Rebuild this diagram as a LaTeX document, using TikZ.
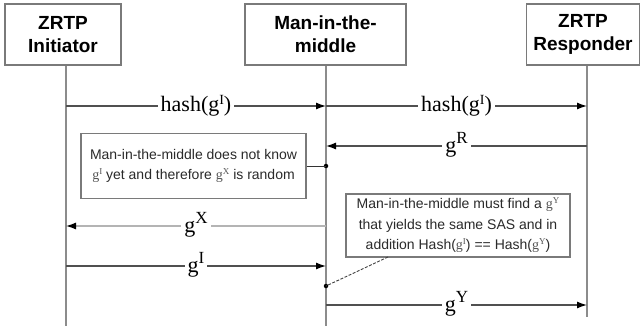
\documentclass[tikz,border=0pt]{standalone}
\usepackage{fontspec}
\setmainfont{Liberation Serif}
\setsansfont{Liberation Sans}
\usetikzlibrary{arrows.meta}
\definecolor{boxgray}{HTML}{7A7A7A}
\definecolor{lifegray}{HTML}{8C8C8C}
\definecolor{msggray}{HTML}{505050}
\definecolor{lightmsg}{HTML}{B4B4B4}
\definecolor{txtgray}{HTML}{2A2A2A}
\definecolor{geegray}{HTML}{555555}
\newcommand\mysup[3]{\raisebox{#2}{\fontsize{#1}{#1}\selectfont #3}}
\newcommand\notegee[1]{{\rmfamily\color{geegray}g\mysup{9}{5pt}{#1}}}
\tikzset{
  hdr/.style={draw=boxgray, line width=1.2pt, fill=white, align=center,
    font=\sffamily\bfseries\fontsize{19}{23}\selectfont, inner sep=0pt},
  note/.style={draw=boxgray, line width=1.2pt, fill=white, align=center,
    text=txtgray, font=\sffamily\fontsize{14}{20.5}\selectfont, inner sep=0pt},
  life/.style={draw=lifegray, line width=1.4pt},
  msg/.style={draw=msggray, line width=1.3pt, -{Latex[length=10pt,width=7pt,color=black]}},
  lmsg/.style={draw=lightmsg, line width=1.3pt, -{Latex[length=10pt,width=7pt,color=black]}},
  lbl/.style={fill=white, inner xsep=3pt, inner ysep=1pt, anchor=base, yshift=-6pt,
    font=\rmfamily\fontsize{22}{22}\selectfont},
  conn/.style={draw=black!80, line width=0.9pt},
  dconn/.style={draw=black!75, line width=0.9pt, dash pattern=on 3pt off 1.5pt},
  dot/.style={circle, fill=black, inner sep=0pt, minimum size=4.5pt}
}
\begin{document}
\begin{tikzpicture}[x=1pt,y=-1pt]
\useasboundingbox (0,0) rectangle (642,326);
% lifeline coordinates
\coordinate (iTop) at (66,65);  \coordinate (iBot) at (66,326);
\coordinate (mTop) at (326,65); \coordinate (mBot) at (326,326);
\coordinate (rTop) at (587,65); \coordinate (rBot) at (587,317);
\draw[life] (iTop) -- (iBot);
\draw[life] (mTop) -- (mBot);
\draw[life] (rTop) -- (rBot);
% headers
\node[hdr, minimum width=116pt, minimum height=61pt] (ini) at (63,34.5) {ZRTP\\Initiator};
\node[hdr, minimum width=161pt, minimum height=61pt] (mid) at (325.5,34.5) {Man-in-the-\\middle};
\node[hdr, minimum width=113pt, minimum height=61pt] (res) at (583,34.5) {ZRTP\\Responder};
% message endpoints
\coordinate (i1) at (66,106);  \coordinate (m1) at (326,106); \coordinate (r1) at (587,106);
\coordinate (m2) at (326,146); \coordinate (r2) at (587,146);
\coordinate (i3) at (66,226);  \coordinate (m3) at (326,226);
\coordinate (i4) at (66,266);  \coordinate (m4) at (326,266);
\coordinate (m5) at (326,305); \coordinate (r5) at (587,305);
% messages
\draw[msg] (i1) -- node[lbl] {hash(g\mysup{14}{7pt}{I})} (m1);
\draw[msg] (m1) -- node[lbl] {hash(g\mysup{14}{7pt}{I})} (r1);
\draw[msg] (r2) -- node[lbl] {g\mysup{17}{9pt}{R}} (m2);
\draw[lmsg] (m3) -- node[lbl] {g\mysup{17}{9pt}{X}} (i3);
\draw[msg] (i4) -- node[lbl] {g\mysup{17}{9pt}{I}} (m4);
\draw[msg] (m5) -- node[lbl] {g\mysup{17}{9pt}{Y}} (r5);
% notes
\node[note, minimum width=225pt, minimum height=65pt] (note1) at (193.5,166)
  {Man-in-the-middle does not know\\\notegee{I} yet and therefore \notegee{X} is random};
\node[note, minimum width=224pt, minimum height=63pt] (note2) at (458,225.5)
  {Man-in-the-middle must find a \notegee{Y}\\that yields the same SAS and in\\addition Hash(\notegee{I}) == Hash(\notegee{Y})};
\node[dot] (d1) at (326,166) {};
\node[dot] (d2) at (326,286) {};
\coordinate (n2c) at (388,257);
\draw[conn] (note1.east) -- (d1.center);
\draw[dconn] (n2c) -- (d2.center);
\end{tikzpicture}
\end{document}
